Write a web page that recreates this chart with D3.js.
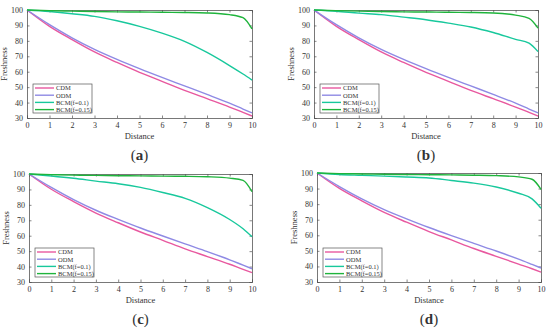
<!DOCTYPE html>
<html>
<head>
<meta charset="utf-8">
<script src="https://cdn.jsdelivr.net/npm/d3@7"></script>
<style>
  body { margin: 0; background: #fff; }
  svg { display: block; }
  text { font-family: "Liberation Serif", "DejaVu Serif", serif; fill: #333; }
</style>
</head>
<body>
<svg id="chart" width="550" height="331"></svg>
<script>
// Shared x values (distance) and axis ticks
var distance = [0, 1, 2, 3, 4, 5, 6, 7, 8, 9, 9.6, 10];
var xTicks = [0, 1, 2, 3, 4, 5, 6, 7, 8, 9, 10];
var yTicks = [30, 40, 50, 60, 70, 80, 90, 100];
var seriesNames = ['CDM', 'ODM', 'BCM(f=0.1)', 'BCM(f=0.15)'];
var panelLabels = ['a', 'b', 'c', 'd'];

// Panel (a)
var cdmA    = [100, 89.4, 80.8, 72.8, 66.0, 59.6, 53.8, 47.9, 42.5, 37.1, 33.6, 31.3];
var odmA    = [100, 90.5, 82.0, 74.5, 68.0, 62.0, 56.3, 50.8, 45.3, 39.6, 35.8, 33.3];
var bcm01A  = [100, 99.0, 97.6, 95.9, 93.0, 89.4, 85.0, 79.7, 72.5, 64.0, 58.5, 54.6];
var bcm015A = [100, 99.6, 99.3, 99.0, 98.8, 98.7, 98.5, 98.4, 98.1, 97.0, 95.0, 87.7];
// Panel (b)
var cdmB    = [100, 89.4, 80.8, 72.8, 66.0, 59.6, 53.8, 47.9, 42.5, 37.1, 33.6, 31.3];
var odmB    = [100, 90.5, 82.0, 74.5, 68.0, 62.0, 56.3, 50.8, 45.3, 39.6, 35.8, 33.3];
var bcm01B  = [100, 99.2, 98.0, 97.0, 95.4, 93.7, 91.5, 89.0, 85.4, 81.0, 78.5, 73.0];
var bcm015B = [100, 99.6, 99.3, 99.0, 98.8, 98.7, 98.5, 98.4, 98.1, 96.7, 94.6, 88.3];
// Panel (c)
var cdmC    = [100, 90.1, 82.1, 74.7, 68.4, 62.4, 57.0, 51.5, 46.5, 41.5, 38.2, 36.1];
var odmC    = [100, 91.3, 83.4, 76.5, 70.6, 65.0, 59.8, 54.7, 49.7, 44.4, 40.9, 38.6];
var bcm01C  = [100, 98.7, 97.2, 95.4, 93.7, 91.3, 88.0, 84.2, 78.2, 70.5, 64.5, 59.3];
var bcm015C = [100, 99.6, 99.3, 99.1, 98.9, 98.8, 98.6, 98.5, 98.2, 97.3, 95.9, 88.5];
// Panel (d)
var cdmD    = [100, 90.1, 82.1, 74.7, 68.4, 62.4, 57.0, 51.5, 46.5, 41.5, 38.5, 36.4];
var odmD    = [100, 91.3, 83.4, 76.5, 70.6, 65.0, 59.8, 54.8, 49.9, 44.7, 41.3, 39.0];
var bcm01D  = [100, 99.0, 98.5, 98.0, 97.4, 96.8, 95.2, 93.5, 91.0, 87.0, 83.4, 77.4];
var bcm015D = [100, 99.6, 99.4, 99.2, 99.0, 98.9, 98.8, 98.6, 98.3, 97.5, 96.0, 89.5];

var colors = ['#e8589f', '#8f8ae4', '#18c89c', '#1fb43c'];

// Plot boxes for each panel
var panels = [
  {x0: 27,  x1: 252, y0: 10,  y1: 118, series: [cdmA, odmA, bcm01A, bcm015A]},
  {x0: 314, x1: 538, y0: 10,  y1: 118, series: [cdmB, odmB, bcm01B, bcm015B]},
  {x0: 29,  x1: 252, y0: 174, y1: 282, series: [cdmC, odmC, bcm01C, bcm015C]},
  {x0: 317, x1: 541, y0: 173, y1: 282, series: [cdmD, odmD, bcm01D, bcm015D]}
];

var svg = d3.select('#chart');

panels.forEach(function(p, pi) {
  var xScale = d3.scaleLinear().domain([0, 10]).range([p.x0, p.x1]);
  var yScale = d3.scaleLinear().domain([30, 100]).range([p.y1, p.y0]);
  var g = svg.append('g');
  var axisColor = '#555';

  // Axes (ticks pointing inward)
  var xAxis = d3.axisBottom(xScale).tickValues(xTicks).tickSize(-2.5).tickPadding(4).tickFormat(d3.format('d'));
  var yAxis = d3.axisLeft(yScale).tickValues(yTicks).tickSize(-2.5).tickPadding(4);
  var xTop = d3.axisTop(xScale).tickValues(xTicks).tickSize(-2.5).tickFormat('');
  var yRight = d3.axisRight(yScale).tickValues(yTicks).tickSize(-2.5).tickFormat('');

  [[xAxis, 'translate(0,' + p.y1 + ')'], [yAxis, 'translate(' + p.x0 + ',0)'],
   [xTop, 'translate(0,' + p.y0 + ')'], [yRight, 'translate(' + p.x1 + ',0)']].forEach(function(a) {
    var ax = g.append('g').attr('transform', a[1]).call(a[0]);
    ax.select('.domain').attr('stroke', axisColor).attr('stroke-width', 0.8);
    ax.selectAll('.tick line').attr('stroke', axisColor).attr('stroke-width', 0.7);
    ax.selectAll('.tick text').style('font-family', '"Liberation Serif", serif')
      .style('font-size', '8px').attr('fill', '#444');
  });

  // Lines
  var line = d3.line().curve(d3.curveMonotoneX)
    .x(function(d, i) { return xScale(distance[i]); })
    .y(function(d) { return yScale(d); });

  p.series.forEach(function(vals, si) {
    g.append('path')
      .attr('d', line(vals))
      .attr('fill', 'none')
      .attr('stroke', colors[si])
      .attr('stroke-width', 1.4);
  });

  // Axis labels
  var cx = (p.x0 + p.x1) / 2;
  g.append('text')
    .attr('x', cx).attr('y', p.y1 + 21)
    .attr('text-anchor', 'middle')
    .style('font-size', '8.5px')
    .text('Distance');
  g.append('text')
    .attr('transform', 'translate(' + (p.x0 - 20) + ',' + ((p.y0 + p.y1) / 2) + ') rotate(-90)')
    .attr('text-anchor', 'middle')
    .style('font-size', '8.5px')
    .text('Freshness');

  // Panel label
  var lab = g.append('text')
    .attr('x', cx).attr('y', p.y1 + 42)
    .attr('text-anchor', 'middle')
    .style('font-size', '15px')
    .attr('fill', '#000');
  lab.append('tspan').text('(');
  lab.append('tspan').style('font-weight', 'bold').text(panelLabels[pi]);
  lab.append('tspan').text(')');

  // Legend
  var lw = 59, lh = 29;
  var lx = p.x0 + 6, ly = p.y1 - 5 - lh;
  var leg = g.append('g').attr('transform', 'translate(' + lx + ',' + ly + ')');
  leg.append('rect')
    .attr('width', lw).attr('height', lh)
    .attr('fill', '#fff').attr('stroke', '#555').attr('stroke-width', 0.7);
  seriesNames.forEach(function(name, si) {
    var yy = 4 + si * 7.2;
    leg.append('line')
      .attr('x1', 2).attr('x2', 21).attr('y1', yy).attr('y2', yy)
      .attr('stroke', colors[si]).attr('stroke-width', 1.4);
    leg.append('text')
      .attr('x', 23).attr('y', yy + 2.3)
      .style('font-size', '6.5px')
      .text(name);
  });
});
</script>
</body>
</html>
